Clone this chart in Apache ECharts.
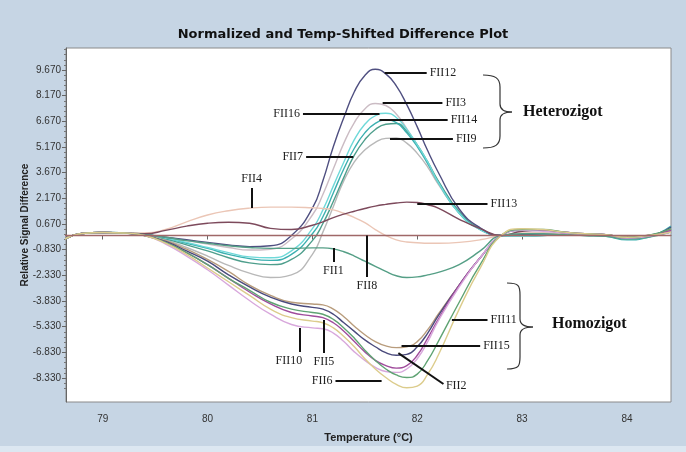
<!DOCTYPE html>
<html>
<head>
<meta charset="utf-8">
<title>Normalized and Temp-Shifted Difference Plot</title>
<script src="https://cdn.jsdelivr.net/npm/echarts@6.0.0/dist/echarts.min.js"></script>
<style>
  html, body { margin: 0; padding: 0; background: #c6d5e4; }
  #chart { width: 686px; height: 452px; }
</style>
</head>
<body>
<div id="chart"></div>
<script>
// temperatures (°C) shared by every curve
var temps = [78.6, 78.8, 79.0, 79.2, 79.4, 79.6, 79.8, 80.0, 80.2, 80.4, 80.6, 80.8,
  81.0, 81.1, 81.2, 81.3, 81.4, 81.5, 81.6, 81.7, 81.8, 81.9, 82.0, 82.1, 82.2,
  82.4, 82.6, 82.8, 83.0, 83.2, 83.4, 83.6, 83.8, 84.0, 84.2, 84.42];

// heterozygote group
var fii12 = [-0.35, 0.12, 0.18, 0.15, 0.05, -0.1, -0.25, -0.4, -0.55, -0.65, -0.6, 0.0, 1.6, 3.2, 5.2, 6.9, 8.4, 9.35, 9.72, 9.45, 8.75, 7.65, 6.35, 4.95, 3.7, 1.55, 0.45, 0, 0.05, 0.1, 0.1, 0.05, 0.0, -0.15, -0.05, 0.3];
var fii3 = [-0.35, 0.12, 0.18, 0.15, 0.08, -0.1, -0.3, -0.5, -0.7, -0.85, -0.8, -0.2, 1.2, 2.4, 3.9, 5.4, 6.6, 7.4, 7.72, 7.6, 7.1, 6.25, 5.25, 4.2, 3.15, 1.4, 0.4, 0, 0.1, 0.15, 0.1, 0.05, 0.0, -0.15, -0.05, 0.35];
var fii16 = [-0.35, 0.12, 0.18, 0.15, 0.08, -0.15, -0.4, -0.7, -1.0, -1.25, -1.3, -0.9, 0.4, 1.5, 2.9, 4.3, 5.6, 6.5, 7.0, 7.15, 6.9, 6.2, 5.3, 4.3, 3.1, 1.3, 0.35, 0, -0.05, 0.0, 0.05, 0.05, 0.0, -0.2, -0.1, 0.5];
var fii14 = [-0.35, 0.12, 0.18, 0.15, 0.08, -0.15, -0.45, -0.75, -1.1, -1.35, -1.45, -1.1, 0.1, 1.1, 2.5, 3.9, 5.1, 6.0, 6.55, 6.75, 6.6, 6.0, 5.2, 4.2, 3.1, 1.3, 0.35, 0, -0.05, 0.0, 0.05, 0.0, -0.05, -0.25, -0.1, 0.55];
var fii7 = [-0.35, 0.12, 0.18, 0.15, 0.08, -0.2, -0.55, -0.9, -1.3, -1.6, -1.7, -1.4, -0.3, 0.7, 2.0, 3.4, 4.7, 5.6, 6.2, 6.5, 6.55, 6.1, 5.3, 4.3, 3.2, 1.4, 0.4, 0, 0.05, 0.1, 0.05, 0.05, 0.0, -0.2, -0.05, 0.4];
var fii9 = [-0.35, 0.12, 0.18, 0.15, 0.08, -0.25, -0.7, -1.2, -1.75, -2.2, -2.45, -2.3, -1.1, 0.2, 1.7, 3.2, 4.3, 5.0, 5.45, 5.68, 5.7, 5.4, 4.8, 4.0, 3.0, 1.3, 0.35, 0, 0.1, 0.15, 0.1, 0.05, 0.0, -0.15, 0.0, 0.3];

// others
var fii4 = [-0.35, 0.12, 0.18, 0.15, 0.15, 0.35, 0.8, 1.2, 1.45, 1.6, 1.66, 1.66, 1.62, 1.58, 1.5, 1.3, 1.05, 0.75, 0.35, 0.0, -0.25, -0.38, -0.42, -0.45, -0.45, -0.4, -0.25, 0, 0.15, 0.15, 0.1, 0.05, 0.0, -0.15, -0.05, 0.3];
var fii13 = [-0.35, 0.12, 0.18, 0.15, 0.1, 0.3, 0.55, 0.72, 0.78, 0.72, 0.42, 0.35, 0.6, 0.8, 1.05, 1.25, 1.42, 1.58, 1.72, 1.82, 1.9, 1.95, 1.93, 1.8, 1.6, 0.95, 0.4, 0, 0.25, 0.3, 0.2, 0.1, 0.05, -0.1, 0.0, 0.2];
var fii1 = [-0.35, 0.12, 0.18, 0.15, 0.05, -0.1, -0.3, -0.45, -0.6, -0.7, -0.75, -0.75, -0.72, -0.72, -0.78, -0.95, -1.2, -1.5, -1.8, -2.1, -2.35, -2.45, -2.42, -2.3, -2.15, -1.7, -0.9, 0, 0.1, 0.1, 0.05, 0.0, -0.05, -0.2, -0.1, 0.2];
var fii8 = [0, 0, 0, 0, 0, 0, 0, 0, 0, 0, 0, 0, 0, 0, 0, 0, 0, 0, 0, 0, 0, 0, 0, 0, 0, 0, 0, 0, 0, 0, 0, 0, 0, 0, 0, 0];

// homozygote group
var fii15 = [-0.35, 0.12, 0.18, 0.15, 0.0, -0.3, -0.8, -1.4, -2.1, -2.9, -3.5, -3.9, -4.0, -4.05, -4.3, -4.75, -5.3, -5.8, -6.2, -6.45, -6.55, -6.5, -6.2, -5.5, -4.6, -2.9, -1.3, 0, 0.35, 0.3, 0.15, 0.1, 0.05, -0.15, -0.05, 0.4];
var fii2 = [-0.35, 0.12, 0.18, 0.15, 0.0, -0.35, -0.9, -1.5, -2.3, -3.0, -3.6, -4.0, -4.2, -4.3, -4.6, -5.1, -5.6, -6.1, -6.5, -6.85, -7.0, -6.95, -6.5, -5.7, -4.7, -2.9, -1.3, 0, 0.3, 0.3, 0.15, 0.1, 0.05, -0.15, -0.05, 0.5];
var fii5 = [-0.35, 0.12, 0.18, 0.15, 0.0, -0.4, -1.0, -1.7, -2.5, -3.3, -4.0, -4.5, -4.7, -4.8, -5.1, -5.6, -6.2, -6.8, -7.3, -7.6, -7.75, -7.6, -7.0, -6.0, -4.9, -2.9, -1.3, 0, 0.35, 0.3, 0.2, 0.1, 0.05, -0.1, 0.0, 0.3];
var fii10 = [-0.35, 0.12, 0.18, 0.15, 0.0, -0.5, -1.2, -2.0, -2.9, -3.8, -4.6, -5.2, -5.4, -5.45, -5.7, -6.2, -6.8, -7.3, -7.7, -7.95, -8.0, -7.8, -7.2, -6.2, -5.0, -3.0, -1.3, 0, 0.3, 0.25, 0.15, 0.1, 0.05, -0.15, -0.05, 0.2];
var fii11 = [-0.35, 0.12, 0.18, 0.15, 0.0, -0.4, -1.0, -1.7, -2.5, -3.2, -3.9, -4.3, -4.5, -4.6, -4.9, -5.4, -6.0, -6.7, -7.3, -7.8, -8.15, -8.3, -8.1, -7.3, -6.2, -3.9, -1.7, 0, 0.35, 0.35, 0.2, 0.1, 0.05, -0.1, 0.0, 0.4];
var fii6 = [-0.35, 0.12, 0.18, 0.15, 0.0, -0.45, -1.1, -1.9, -2.7, -3.5, -4.3, -4.8, -5.0, -5.1, -5.4, -5.9, -6.5, -7.2, -7.8, -8.3, -8.7, -8.9, -8.8, -8.1, -7.0, -4.3, -1.9, 0, 0.4, 0.35, 0.2, 0.1, 0.05, -0.1, 0.0, 0.2];

var names = ['FII9', 'FII3', 'FII7', 'FII14', 'FII16', 'FII12', 'FII4', 'FII13', 'FII1',
  'FII15', 'FII2', 'FII5', 'FII10', 'FII11', 'FII6', 'FII8'];
var values = [fii9, fii3, fii7, fii14, fii16, fii12, fii4, fii13, fii1,
  fii15, fii2, fii5, fii10, fii11, fii6, fii8];
var colors = ['#b8b8b8', '#cbbcc4', '#4e9e8c', '#3cb0b0', '#6fd9d9', '#4f4f80', '#ebc6b6', '#7d4a5c', '#559f86',
  '#b89c7c', '#4a4a7c', '#a04c9c', '#d8a8dc', '#5fa373', '#dccc8c', '#a06868'];

var xTicks = [79, 80, 81, 82, 83, 84];
var yTicks = [-8.33, -6.83, -5.33, -3.83, -2.33, -0.83, 0.67, 2.17, 3.67, 5.17, 6.67, 8.17, 9.67];

// callouts: label, from [temp, value] to [temp, value]
var callouts = [
  ['FII12', 81.69, 9.50, 82.09, 9.50],
  ['FII3', 81.67, 7.75, 82.24, 7.75],
  ['FII16', 81.64, 7.10, 80.91, 7.10],
  ['FII14', 81.64, 6.75, 82.29, 6.75],
  ['FII9', 81.74, 5.64, 82.34, 5.64],
  ['FII7', 81.39, 4.59, 80.94, 4.59],
  ['FII4', 80.42, 1.61, 80.42, 2.78],
  ['FII13', 82.00, 1.84, 82.67, 1.84],
  ['FII1', 81.20, -0.73, 81.20, -1.55],
  ['FII8', 81.52, 0, 81.52, -2.42],
  ['FII10', 80.88, -5.40, 80.88, -6.81],
  ['FII5', 81.11, -4.94, 81.11, -6.87],
  ['FII6', 81.66, -8.50, 81.22, -8.50],
  ['FII2', 81.82, -6.87, 82.25, -8.68],
  ['FII15', 81.85, -6.46, 82.60, -6.46],
  ['FII11', 82.33, -4.94, 82.67, -4.94]
];

var yMinor = [];
for (var k = -32; k <= 34; k++) {
  yMinor.push(+(0.67 + k * 0.3).toFixed(2));
}

// curly brace made of bezier pieces: x0 = arm ends, xm = spine, xt = tip
function brace(x0, xm, xt, yTop, yMid, yBot) {
  var st = { stroke: '#333', fill: null, lineWidth: 1.2 };
  return [
    { type: 'bezierCurve', shape: { x1: x0, y1: yTop, cpx1: x0 + 12, cpy1: yTop, cpx2: xm, cpy2: yTop + 3, x2: xm, y2: yTop + 12 }, style: st },
    { type: 'line', shape: { x1: xm, y1: yTop + 12, x2: xm, y2: yMid - 8 }, style: st },
    { type: 'bezierCurve', shape: { x1: xm, y1: yMid - 8, cpx1: xm, cpy1: yMid - 2, cpx2: xm + 5, cpy2: yMid, x2: xt, y2: yMid }, style: st },
    { type: 'bezierCurve', shape: { x1: xt, y1: yMid, cpx1: xm + 5, cpy1: yMid, cpx2: xm, cpy2: yMid + 2, x2: xm, y2: yMid + 8 }, style: st },
    { type: 'line', shape: { x1: xm, y1: yMid + 8, x2: xm, y2: yBot - 12 }, style: st },
    { type: 'bezierCurve', shape: { x1: xm, y1: yBot - 12, cpx1: xm, cpy1: yBot - 3, cpx2: x0 + 12, cpy2: yBot, x2: x0, y2: yBot }, style: st }
  ];
}

var chart = echarts.init(document.getElementById('chart'));

var series = names.map(function (name, i) {
  var s = {
    name: name,
    type: 'line',
    showSymbol: false,
    smooth: 0.5,
    animation: false,
    lineStyle: { color: colors[i], width: 1.4 },
    itemStyle: { color: colors[i] },
    data: temps.map(function (t, j) { return [t, values[i][j]]; })
  };
  if (name === 'FII8') {
    s.markLine = {
      symbol: 'none',
      silent: true,
      animation: false,
      lineStyle: { color: '#111', width: 2, type: 'solid' },
      label: {
        show: true,
        position: 'end',
        formatter: '{b}',
        distance: 3,
        fontFamily: 'Liberation Serif',
        fontSize: 12,
        color: '#222'
      },
      emphasis: { disabled: true },
      data: callouts.map(function (c) {
        var start = { name: c[0], coord: [c[1], c[2]] };
        if (c[0] === 'FII10') {
          start.label = { offset: [-11, 0] };
        }
        return [start, { coord: [c[3], c[4]] }];
      })
    };
  }
  return s;
});

var graphics = [
  { type: 'rect', shape: { x: 0, y: 446, width: 686, height: 6 }, style: { fill: '#dce7f1' }, z: 0 },
  {
    type: 'text',
    style: { text: 'Heterozigot', x: 523, y: 112, verticalAlign: 'middle', font: 'bold 16px "Liberation Serif"', fill: '#111' }
  },
  {
    type: 'text',
    style: { text: 'Homozigot', x: 552, y: 324, verticalAlign: 'middle', font: 'bold 16px "Liberation Serif"', fill: '#111' }
  }
].concat(brace(483, 500, 512, 75, 112, 148), brace(507, 520, 533, 283, 327, 369));

var option = {
  backgroundColor: '#c6d5e4',
  animation: false,
  title: {
    text: 'Normalized and Temp-Shifted Difference Plot',
    left: 'center',
    top: 23,
    textStyle: { fontFamily: 'DejaVu Sans', fontWeight: 'bold', fontSize: 13, color: '#111' }
  },
  grid: {
    left: 66, right: 15, top: 48, bottom: 50,
    show: true, backgroundColor: '#ffffff', borderColor: '#8a8a8a', borderWidth: 1
  },
  xAxis: {
    type: 'value',
    min: 78.65,
    max: 84.42,
    name: 'Temperature (°C)',
    nameLocation: 'middle',
    nameGap: 30,
    nameMoveOverlap: false,
    nameTextStyle: { fontFamily: 'Liberation Sans', fontWeight: 'bold', fontSize: 11, color: '#222' },
    axisLine: { show: true, lineStyle: { color: '#666' } },
    axisTick: { show: true, customValues: xTicks, length: 4, lineStyle: { color: '#666' } },
    axisLabel: {
      customValues: xTicks,
      margin: 12,
      fontFamily: 'Liberation Sans',
      fontSize: 10,
      color: '#333',
      formatter: function (v) { return String(v); }
    },
    splitLine: { show: false }
  },
  yAxis: [
    {
      type: 'value',
      min: -9.73,
      max: 10.96,
      name: 'Relative Signal Difference',
      nameLocation: 'middle',
      nameGap: 36,
      nameMoveOverlap: false,
      nameTextStyle: { fontFamily: 'Liberation Sans', fontWeight: 'bold', fontSize: 10, color: '#222' },
      axisLine: { show: true, lineStyle: { color: '#666' } },
      axisTick: { show: true, customValues: yMinor, length: 2, lineStyle: { color: '#777' } },
      axisLabel: {
        customValues: yTicks,
        margin: 5,
        fontFamily: 'Liberation Sans',
        fontSize: 10,
        color: '#333',
        formatter: function (v) { return v.toFixed(3); }
      },
      splitLine: { show: false }
    },
    {
      type: 'value',
      position: 'left',
      min: -9.73,
      max: 10.96,
      axisLine: { show: false },
      axisTick: { show: true, customValues: yTicks, length: 4, lineStyle: { color: '#666' } },
      axisLabel: { show: false },
      splitLine: { show: false }
    }
  ],
  graphic: graphics,
  series: series
};

chart.setOption(option);
</script>
</body>
</html>
